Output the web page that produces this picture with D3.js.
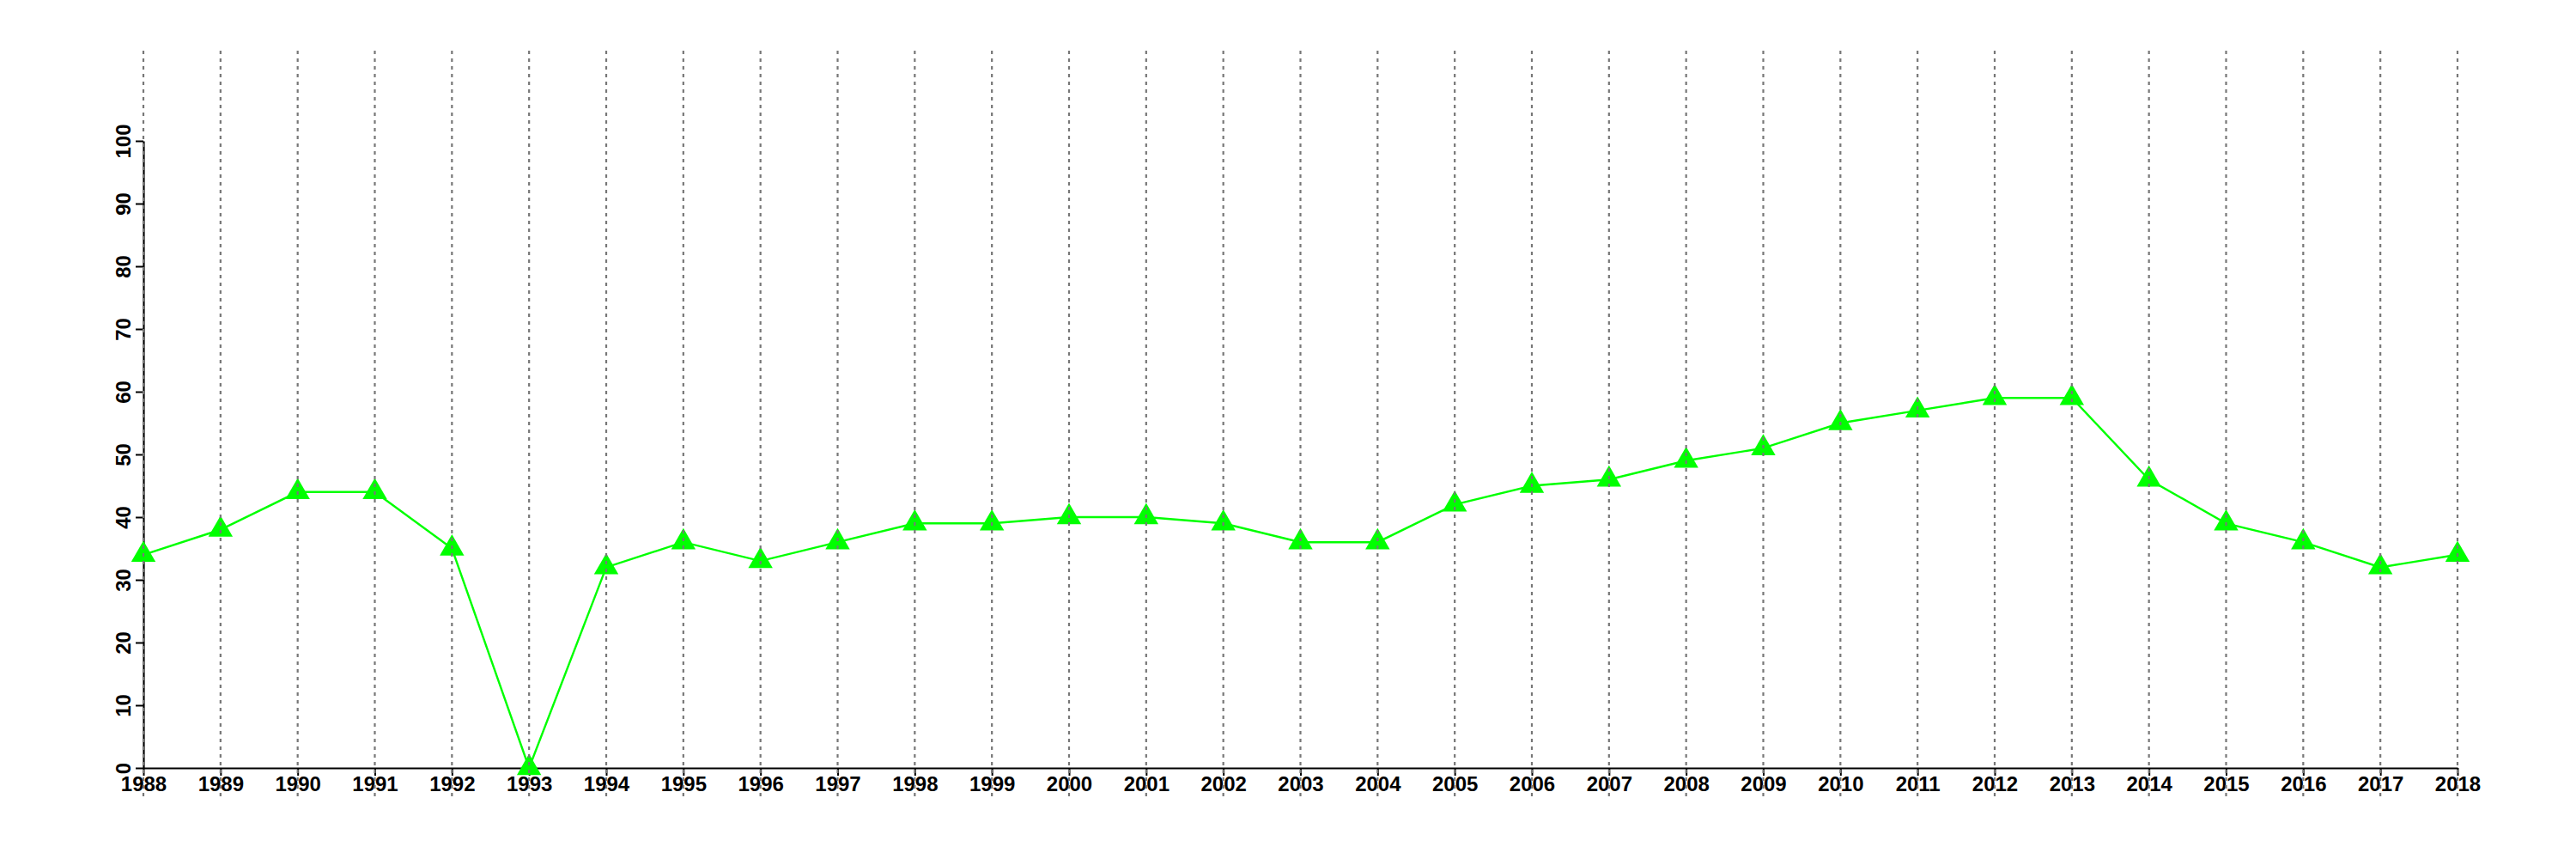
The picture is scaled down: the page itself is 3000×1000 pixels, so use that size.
<!DOCTYPE html>
<html>
<head>
<meta charset="utf-8">
<script src="https://cdn.jsdelivr.net/npm/d3@7"></script>
<style>
html, body { margin: 0; padding: 0; background: #fff; }
svg { display: block; }
</style>
</head>
<body>
<svg id="chart" width="3000" height="1000"></svg>
<script>
const years = [1988,1989,1990,1991,1992,1993,1994,1995,1996,1997,1998,1999,2000,2001,2002,2003,2004,2005,2006,2007,2008,2009,2010,2011,2012,2013,2014,2015,2016,2017,2018];
const values = [34,38,44,44,35,0,32,36,33,36,39,39,40,40,39,36,36,42,45,46,49,51,55,57,59,59,46,39,36,32,34];
const yTicks = [0,10,20,30,40,50,60,70,80,90,100];

const svg = d3.select("#chart");
const x = d3.scaleLinear().domain([1988, 2018]).range([167, 2862]);
const y = d3.scaleLinear().domain([0, 100]).range([894, 164]);
const font = "'Liberation Sans', Arial, Helvetica, sans-serif";

// Y axis
const yAxis = svg.append("g").attr("transform", "translate(167,0)")
  .call(d3.axisLeft(y).tickValues(yTicks).tickSize(9).tickSizeOuter(0).tickFormat(d3.format("d")));
yAxis.select(".domain").attr("stroke", "#000").attr("stroke-width", 2.2);
yAxis.selectAll(".tick line").attr("stroke", "#000").attr("stroke-width", 2);
yAxis.selectAll(".tick text")
  .attr("x", null).attr("dy", null)
  .attr("transform", "translate(-15,0) rotate(-90)")
  .attr("text-anchor", "middle")
  .attr("font-family", font).attr("font-weight", "bold").attr("font-size", 24).attr("fill", "#000");

// X axis
const xAxis = svg.append("g").attr("transform", "translate(0,894)")
  .call(d3.axisBottom(x).tickValues(years).tickSize(9).tickSizeOuter(0).tickFormat(d3.format("d")));
xAxis.select(".domain").attr("stroke", "#000").attr("stroke-width", 2.2);
xAxis.selectAll(".tick line").attr("stroke", "#000").attr("stroke-width", 2);
xAxis.selectAll(".tick text")
  .attr("y", 27).attr("dy", null)
  .attr("font-family", font).attr("font-weight", "bold").attr("font-size", 24).attr("fill", "#000");

// Line
const line = d3.line().x((d, i) => x(years[i])).y(d => y(d));
svg.append("path").datum(values)
  .attr("d", line).attr("fill", "none").attr("stroke", "#00ff00").attr("stroke-width", 2.4);

// Triangles
const tri = d3.symbol().type(d3.symbolTriangle).size(350);
svg.append("g").selectAll("path").data(values).join("path")
  .attr("d", tri)
  .attr("transform", (d, i) => `translate(${x(years[i])},${y(d)})`)
  .attr("fill", "#00ff00");

// Vertical dotted gridlines (drawn on top)
svg.append("g").selectAll("line").data(years).join("line")
  .attr("x1", d => x(d)).attr("x2", d => x(d))
  .attr("y1", 59).attr("y2", 928)
  .attr("stroke", "#777777").attr("stroke-width", 2.2)
  .attr("stroke-dasharray", "4,5");
</script>
</body>
</html>
